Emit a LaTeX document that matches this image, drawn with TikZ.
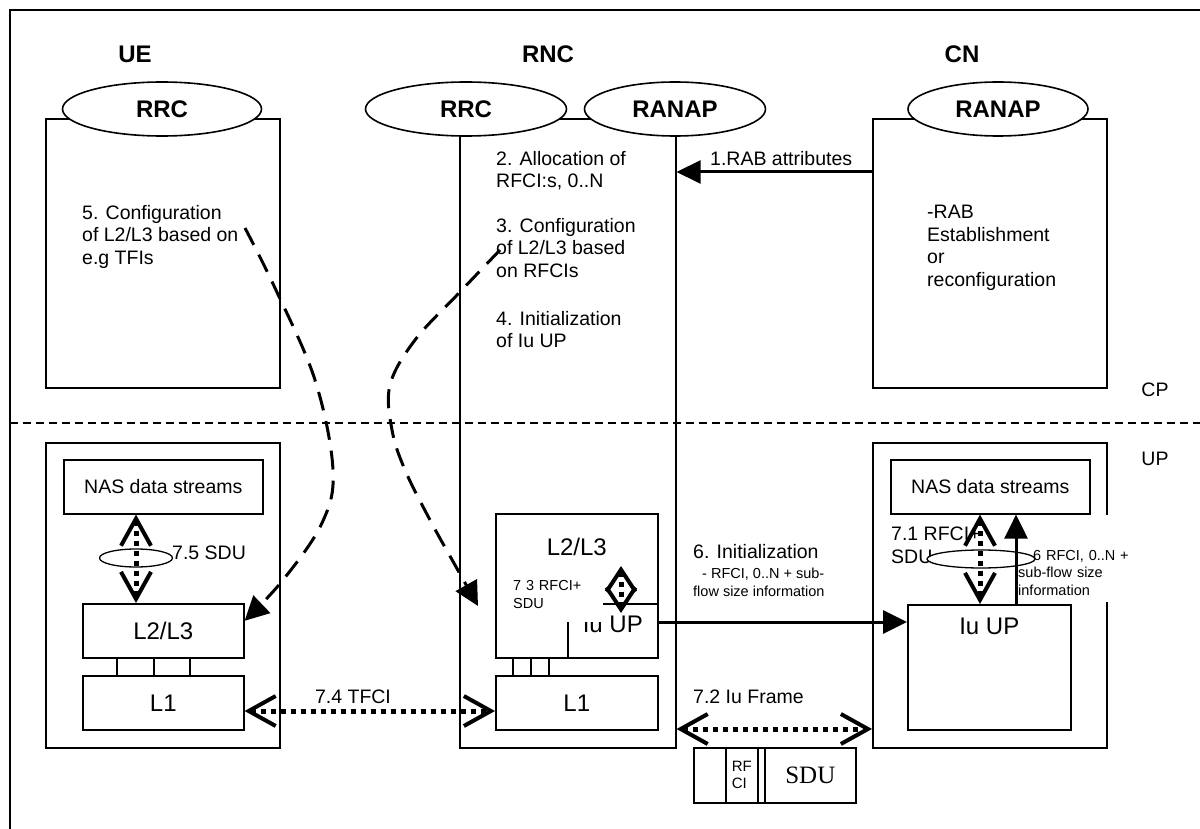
\documentclass[tikz,border=0pt]{standalone}
\usepackage{fontspec}
\setmainfont{Liberation Sans}
\newfontfamily\serifsdu{Liberation Serif}
\usetikzlibrary{arrows.meta,shapes.geometric}
\newcommand\Fmain{\fontsize{19.5}{22.5}\selectfont}
\newcommand\Fsmall{\fontsize{14.5}{17.5}\selectfont}
\newcommand\Fbig{\fontsize{24}{28}\selectfont}
\newcommand\Fbold{\fontsize{24}{28}\selectfont\bfseries}
\begin{document}
\begin{tikzpicture}[x=1pt,y=-1pt,
  box/.style={draw, rectangle, line width=1.6pt, inner sep=0pt, anchor=north west},
  ell/.style={draw, ellipse, line width=1.6pt, fill=white, inner sep=0pt, font=\Fbold, minimum height=54pt},
  sdu/.style={draw, ellipse, line width=1.3pt, fill=white, inner sep=0pt, minimum height=18pt},
  txt/.style={inner sep=0pt, anchor=north west, align=left, font=\Fmain},
  solidarrow/.style={line width=3pt, -{Triangle[length=24pt,width=23pt]}},
  dotarrow/.style={line width=5pt, dash pattern=on 5pt off 5pt,
     {Straight Barb[length=27pt,width=30pt,line width=4pt]}-{Straight Barb[length=27pt,width=30pt,line width=4pt]}},
  shortdot/.style={line width=5pt, dash pattern=on 5pt off 5pt,
     {Straight Barb[length=22pt,width=29pt,line width=4pt]}-{Straight Barb[length=22pt,width=29pt,line width=4pt]}},
  dashcurve/.style={line width=3pt, dash pattern=on 19pt off 11pt, -{Triangle[length=24pt,width=24pt]}},
  thinline/.style={line width=1.6pt}]
\useasboundingbox (0,0) rectangle (1200,829);
\clip (0,0) rectangle (1200,829);

% outer frame and CP/UP separator
\coordinate (frTR) at (1200,10);
\coordinate (frTL) at (10,10);
\coordinate (frBL) at (10,829);
\draw[line width=1.8pt] (frTR) -- (frTL) -- (frBL);
\coordinate (sepL) at (10,423);
\coordinate (sepR) at (1200,423);
\draw[line width=1.1pt, dash pattern=on 8pt off 5pt] (sepL) -- (sepR);

% titles
\node[font=\Fbold] (UE) at (135,54) {UE};
\node[font=\Fbold] (RNC) at (548,54) {RNC};
\node[font=\Fbold] (CN) at (962,54) {CN};
\node[font=\Fmain] (CP) at (1155,390) {CP};
\node[font=\Fmain] (UP) at (1155,459) {UP};

% main boxes
\node[box, minimum width=234pt, minimum height=269pt] (UEcp) at (45,118) {};
\node[box, minimum width=216pt, minimum height=629pt] (RNCbox) at (459,118) {};
\node[box, minimum width=234pt, minimum height=269pt] (CNcp) at (872,118) {};
\node[box, minimum width=234pt, minimum height=305pt] (UEup) at (45,442) {};
\node[box, minimum width=234pt, minimum height=305pt] (CNup) at (872,442) {};

% protocol ellipses
\node[ell, minimum width=199pt] (UErrc) at (162,109) {RRC};
\node[ell, minimum width=201pt] (RNCrrc) at (466,109) {RRC};
\node[ell, minimum width=181pt] (RNCranap) at (675,109) {RANAP};
\node[ell, minimum width=180pt] (CNranap) at (998,109) {RANAP};

% control plane texts
\node[txt] (t5) at (82,205) {5. Configuration\\of L2/L3 based on\\e.g TFIs};
\node[txt] (t2) at (496,151) {2. Allocation of\\RFCI:s, 0..N};
\node[txt] (t3) at (496,218) {3. Configuration\\of L2/L3 based\\on RFCIs};
\node[txt] (t4) at (496,311) {4. Initialization\\of Iu UP};
\node[txt] (t1) at (710,151) {1.RAB attributes};
\node[txt] (tcn) at (927,205) {-RAB\\Establishment\\or\\reconfiguration};

\draw[solidarrow] (CNcp.west |- 0,172) -- (RNCbox.east |- 0,172);

% UE user plane
\node[box, minimum width=199pt, minimum height=54pt, font=\Fmain] (UEnas) at (63,459) {NAS data streams};
\node[box, minimum width=161pt, minimum height=54pt, font=\Fbig] (UEl23) at (82,603) {L2/L3};
\node[box, minimum width=161pt, minimum height=54pt, font=\Fbig] (UEl1) at (82,675) {L1};
\foreach \d in {35,72,108}
  \draw[thinline] ([xshift=\d pt]UEl23.south west) -- ([xshift=\d pt]UEl1.north west);
\node[sdu, minimum width=73pt] (UEsdu) at (136,558) {};
\node[txt, anchor=west] (t75) at (172,553) {7.5 SDU};
\draw[dotarrow] (UEnas.south -| UEsdu.center) -- (UEl23.north -| UEsdu.center);

% RNC user plane
\node[box, minimum width=162pt, minimum height=144pt,
  label={[font=\Fbig, inner sep=0pt, anchor=north, yshift=-25pt]north:L2/L3}] (RNCl23) at (495,513) {};
\node[box, minimum width=90pt, minimum height=54pt,
  label={[font=\Fbig, inner sep=0pt, anchor=north, yshift=-13pt]north:Iu UP}] (RNCiu) at (567,603) {};
\node[box, minimum width=162pt, minimum height=54pt, font=\Fbig] (RNCl1) at (495,675) {L1};
\foreach \d in {18,36,54}
  \draw[thinline] ([xshift=\d pt]RNCl23.south west) -- ([xshift=\d pt]RNCl1.north west);
\node[txt, font=\Fsmall, fill=white, inner xsep=3pt, text width=87pt] (t73) at (510,570)
  {\rule{0pt}{20.4pt}7 3 RFCI+\\SDU\rule[-13.6pt]{0pt}{0pt}};
\coordinate (dtop) at (621,566);
\coordinate (dbot) at (621,613);
\draw[shortdot] (dtop) -- (dbot);

% CN user plane
\node[box, minimum width=199pt, minimum height=54pt, font=\Fmain] (CNnas) at (890,459) {NAS data streams};
\node[box, minimum width=163pt, minimum height=125pt,
  label={[font=\Fbig, inner sep=0pt, anchor=north, yshift=-14pt]north:Iu UP}] (CNiu) at (907,604) {};
\node[txt] (t71) at (891,527) {7.1 RFCI+\\SDU};
\node[txt, font=\Fsmall, fill=white, inner xsep=1pt, text width=115pt] (t6cn) at (1017,515)
  {\rule{0pt}{45pt}\hspace*{15pt}6 RFCI, 0..N +\\sub-flow size\\information\rule[-7pt]{0pt}{0pt}};
\node[sdu, minimum width=108pt] (CNsdu) at (981,559) {};
\draw[dotarrow] (CNnas.south -| 980,0) -- (CNiu.north -| 980,0);
\draw[solidarrow] (CNiu.north -| 1016,0) -- (CNnas.south -| 1016,0);

% initialization
\node[txt, anchor=west] (t6) at (693,552) {6. Initialization};
\node[txt, font=\Fsmall] (t6s) at (693,568) {\hspace*{9pt}- RFCI, 0..N + sub-\\flow size information};
\draw[solidarrow] (RNCiu.east |- 0,622) -- (CNiu.west |- 0,622);

% TFCI and Iu frame
\draw[dotarrow] (UEl1.east |- 0,711) -- (RNCl1.west |- 0,711);
\node[font=\Fmain, inner sep=0pt] (t74) at (353,697) {7.4 TFCI};
\draw[dotarrow] (RNCbox.east |- 0,729) -- (CNup.west |- 0,729);
\node[txt, anchor=west] (t72) at (693,697) {7.2 Iu Frame};

% Iu frame structure
\node[box, minimum width=32pt, minimum height=55pt] (f1) at (693,747) {};
\node[box, minimum width=32pt, minimum height=55pt, font=\fontsize{15}{17}\selectfont, align=left] (f2) at (725,747) {RF\\CI};
\node[box, minimum width=7pt, minimum height=55pt] (f3) at (757,747) {};
\node[box, minimum width=91pt, minimum height=55pt, font=\serifsdu\fontsize{25}{28}\selectfont] (f4) at (764,747) {SDU};

% configuration curves
\coordinate (c5) at (245,228);
\coordinate (aA) at ([yshift=10pt]UEl23.east);
\draw[dashcurve] plot[smooth, tension=0.6] coordinates {(c5) (275,288) (315,380) (333,470) (322,523) (283,580) (aA)};
\coordinate (c3) at (500,250);
\coordinate (aB) at (478,606);
\draw[dashcurve] plot[smooth, tension=0.6] coordinates {(c3) (459,293) (415,340) (390,385) (392,430) (405,470) (430,520) (455,565) (aB)};
\end{tikzpicture}
\end{document}
